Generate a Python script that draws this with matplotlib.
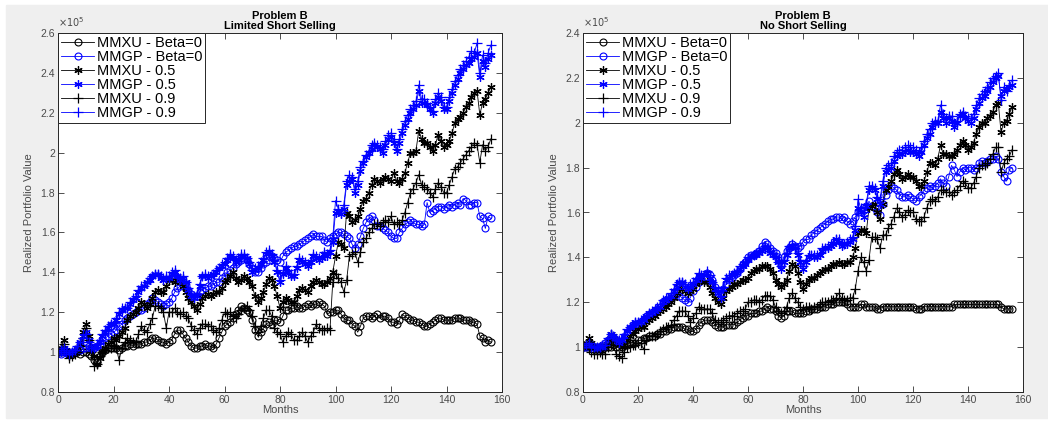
import matplotlib
matplotlib.use('Agg')
from matplotlib import pyplot as plt
from matplotlib.ticker import FormatStrFormatter, MultipleLocator
import numpy as np

plt.rcParams['font.family'] = ['Liberation Sans', 'DejaVu Sans']

# realized portfolio value, in units of 1e5, one value per month (0..156)
months = np.arange(157)

# ---- Limited short selling ----
lim_mmxu_b0 = [
    1.00, 1.00, 1.01, 1.00, 0.99, 0.99, 1.00, 1.00, 0.99, 1.00,
    1.00, 0.99, 0.98, 0.96, 0.95, 0.98, 1.00, 1.01, 1.02, 1.02,
    1.02, 1.02, 1.01, 1.02, 1.03, 1.03, 1.04, 1.03, 1.04, 1.04,
    1.04, 1.05, 1.05, 1.06, 1.07, 1.07, 1.06, 1.05, 1.05, 1.04,
    1.05, 1.06, 1.09, 1.11, 1.11, 1.09, 1.07, 1.05, 1.03, 1.02,
    1.02, 1.03, 1.03, 1.04, 1.03, 1.03, 1.02, 1.04, 1.07, 1.10,
    1.13, 1.14, 1.15, 1.17, 1.19, 1.21, 1.23, 1.22, 1.21, 1.20,
    1.16, 1.11, 1.08, 1.10, 1.12, 1.14, 1.15, 1.14, 1.16, 1.16,
    1.15, 1.18, 1.21, 1.21, 1.22, 1.22, 1.23, 1.22, 1.22, 1.23,
    1.24, 1.23, 1.24, 1.24, 1.25, 1.24, 1.23, 1.19, 1.20, 1.20,
    1.21, 1.21, 1.19, 1.17, 1.16, 1.16, 1.14, 1.13, 1.10, 1.13,
    1.17, 1.18, 1.18, 1.17, 1.18, 1.19, 1.17, 1.18, 1.18, 1.17,
    1.15, 1.15, 1.14, 1.16, 1.19, 1.18, 1.17, 1.16, 1.16, 1.15,
    1.15, 1.14, 1.13, 1.13, 1.14, 1.15, 1.16, 1.17, 1.17, 1.16,
    1.16, 1.16, 1.16, 1.17, 1.17, 1.17, 1.16, 1.16, 1.16, 1.15,
    1.15, 1.14, 1.08, 1.07, 1.05, 1.06, 1.05]
lim_mmgp_b0 = [
    1.00, 0.99, 1.00, 1.00, 0.99, 1.00, 1.00, 1.01, 1.01, 1.02,
    1.02, 1.03, 1.02, 1.02, 1.03, 1.04, 1.06, 1.07, 1.08, 1.09,
    1.10, 1.11, 1.13, 1.14, 1.16, 1.17, 1.18, 1.19, 1.20, 1.21,
    1.21, 1.22, 1.24, 1.25, 1.27, 1.26, 1.25, 1.24, 1.23, 1.24,
    1.25, 1.27, 1.30, 1.32, 1.33, 1.34, 1.33, 1.31, 1.29, 1.28,
    1.28, 1.30, 1.31, 1.32, 1.33, 1.33, 1.34, 1.35, 1.35, 1.37,
    1.38, 1.40, 1.41, 1.42, 1.44, 1.45, 1.46, 1.47, 1.46, 1.44,
    1.42, 1.40, 1.40, 1.42, 1.44, 1.45, 1.46, 1.48, 1.47, 1.46,
    1.45, 1.48, 1.50, 1.51, 1.52, 1.53, 1.53, 1.54, 1.55, 1.56,
    1.57, 1.58, 1.59, 1.58, 1.58, 1.58, 1.56, 1.55, 1.57, 1.58,
    1.59, 1.60, 1.60, 1.59, 1.58, 1.57, 1.54, 1.52, 1.54, 1.58,
    1.62, 1.65, 1.67, 1.68, 1.66, 1.63, 1.63, 1.62, 1.61, 1.60,
    1.58, 1.57, 1.57, 1.60, 1.62, 1.64, 1.65, 1.66, 1.65, 1.64,
    1.64, 1.63, 1.64, 1.75, 1.70, 1.71, 1.72, 1.73, 1.73, 1.72,
    1.73, 1.74, 1.73, 1.74, 1.75, 1.74, 1.77, 1.76, 1.74, 1.74,
    1.75, 1.75, 1.68, 1.67, 1.62, 1.68, 1.67]
lim_mmxu_05 = [
    1.00, 1.02, 1.06, 1.01, 0.98, 0.99, 1.00, 1.02, 1.04, 1.10,
    1.14, 1.08, 1.02, 0.98, 0.94, 0.97, 1.00, 1.02, 1.04, 1.05,
    1.07, 1.06, 1.08, 1.10, 1.12, 1.16, 1.18, 1.19, 1.20, 1.22,
    1.25, 1.24, 1.22, 1.24, 1.27, 1.30, 1.31, 1.30, 1.30, 1.33,
    1.36, 1.36, 1.35, 1.36, 1.37, 1.33, 1.30, 1.27, 1.25, 1.23,
    1.21, 1.24, 1.27, 1.28, 1.29, 1.28, 1.29, 1.30, 1.30, 1.32,
    1.35, 1.36, 1.38, 1.40, 1.37, 1.35, 1.36, 1.38, 1.37, 1.35,
    1.33, 1.28, 1.25, 1.27, 1.30, 1.34, 1.37, 1.36, 1.33, 1.28,
    1.22, 1.25, 1.27, 1.26, 1.25, 1.25, 1.28, 1.31, 1.32, 1.31,
    1.30, 1.33, 1.35, 1.36, 1.35, 1.34, 1.34, 1.35, 1.37, 1.40,
    1.48, 1.55, 1.54, 1.52, 1.70, 1.68, 1.65, 1.66, 1.68, 1.72,
    1.76, 1.77, 1.80, 1.84, 1.87, 1.86, 1.85, 1.87, 1.88, 1.87,
    1.86, 1.90, 1.86, 1.85, 1.87, 1.90, 1.95, 2.00, 2.00, 2.01,
    2.11, 2.07, 2.05, 2.05, 2.03, 2.01, 2.04, 2.09, 2.06, 2.03,
    2.04, 2.06, 2.10, 2.15, 2.17, 2.18, 2.20, 2.23, 2.25, 2.28,
    2.30, 2.31, 2.19, 2.25, 2.27, 2.30, 2.33]
lim_mmgp_05 = [
    1.00, 1.00, 1.02, 1.00, 0.99, 1.00, 1.00, 1.02, 1.05, 1.08,
    1.10, 1.06, 1.02, 1.02, 1.03, 1.05, 1.08, 1.10, 1.12, 1.14,
    1.14, 1.16, 1.19, 1.21, 1.22, 1.22, 1.24, 1.26, 1.27, 1.30,
    1.32, 1.33, 1.35, 1.36, 1.38, 1.39, 1.39, 1.37, 1.36, 1.37,
    1.37, 1.39, 1.40, 1.38, 1.36, 1.37, 1.35, 1.31, 1.28, 1.27,
    1.28, 1.33, 1.38, 1.38, 1.37, 1.38, 1.39, 1.40, 1.42, 1.43,
    1.44, 1.46, 1.48, 1.47, 1.45, 1.46, 1.48, 1.48, 1.47, 1.44,
    1.40, 1.41, 1.42, 1.44, 1.46, 1.49, 1.50, 1.48, 1.45, 1.40,
    1.35, 1.39, 1.42, 1.40, 1.38, 1.38, 1.42, 1.46, 1.45, 1.44,
    1.43, 1.45, 1.48, 1.47, 1.46, 1.47, 1.49, 1.48, 1.50, 1.55,
    1.70, 1.71, 1.69, 1.72, 1.84, 1.86, 1.87, 1.80, 1.84, 1.91,
    1.95, 1.98, 2.00, 2.02, 2.04, 2.03, 2.02, 2.00, 2.04, 2.07,
    2.08, 2.05, 2.01, 2.05, 2.10, 2.14, 2.17, 2.20, 2.22, 2.24,
    2.31, 2.25, 2.25, 2.24, 2.22, 2.20, 2.25, 2.28, 2.26, 2.22,
    2.22, 2.26, 2.30, 2.34, 2.37, 2.40, 2.42, 2.44, 2.45, 2.47,
    2.48, 2.50, 2.38, 2.46, 2.43, 2.47, 2.49]
lim_mmxu_09 = [
    1.00, 1.02, 1.04, 1.00, 0.97, 0.98, 0.99, 1.00, 1.03, 1.07,
    1.12, 1.06, 1.00, 0.93, 0.94, 0.98, 1.00, 1.01, 1.02, 1.02,
    1.03, 1.02, 0.96, 1.02, 1.05, 1.07, 1.06, 1.05, 1.05, 1.09,
    1.13, 1.11, 1.10, 1.14, 1.17, 1.23, 1.23, 1.22, 1.20, 1.12,
    1.20, 1.20, 1.22, 1.20, 1.19, 1.20, 1.18, 1.17, 1.13, 1.11,
    1.09, 1.12, 1.14, 1.14, 1.13, 1.13, 1.11, 1.10, 1.12, 1.16,
    1.20, 1.19, 1.20, 1.18, 1.17, 1.19, 1.21, 1.22, 1.23, 1.21,
    1.18, 1.13, 1.10, 1.13, 1.17, 1.21, 1.21, 1.18, 1.12, 1.10,
    1.09, 1.05, 1.08, 1.10, 1.09, 1.06, 1.06, 1.08, 1.10, 1.08,
    1.05, 1.08, 1.10, 1.14, 1.12, 1.11, 1.11, 1.12, 1.11, 1.35,
    1.39, 1.37, 1.35, 1.30, 1.36, 1.48, 1.49, 1.50, 1.45, 1.50,
    1.55, 1.57, 1.60, 1.62, 1.64, 1.64, 1.63, 1.65, 1.66, 1.65,
    1.68, 1.64, 1.65, 1.64, 1.66, 1.70, 1.75, 1.80, 1.82, 1.85,
    1.89, 1.84, 1.83, 1.82, 1.80, 1.78, 1.82, 1.85, 1.83, 1.80,
    1.80, 1.84, 1.88, 1.92, 1.93, 1.95, 1.97, 1.99, 2.01, 2.03,
    2.05, 2.04, 1.95, 2.04, 2.01, 2.03, 2.07]
lim_mmgp_09 = [
    1.00, 1.01, 1.02, 1.00, 0.99, 1.00, 1.01, 1.03, 1.05, 1.07,
    1.09, 1.05, 1.02, 1.02, 1.04, 1.06, 1.09, 1.11, 1.13, 1.14,
    1.15, 1.17, 1.20, 1.22, 1.22, 1.22, 1.25, 1.27, 1.28, 1.31,
    1.33, 1.33, 1.35, 1.37, 1.38, 1.39, 1.39, 1.38, 1.37, 1.38,
    1.38, 1.40, 1.41, 1.38, 1.37, 1.38, 1.35, 1.32, 1.29, 1.28,
    1.29, 1.34, 1.38, 1.39, 1.38, 1.38, 1.39, 1.41, 1.42, 1.44,
    1.45, 1.47, 1.49, 1.48, 1.46, 1.47, 1.49, 1.49, 1.47, 1.45,
    1.41, 1.42, 1.43, 1.45, 1.47, 1.50, 1.51, 1.49, 1.46, 1.41,
    1.36, 1.40, 1.43, 1.41, 1.39, 1.39, 1.43, 1.47, 1.46, 1.45,
    1.44, 1.46, 1.49, 1.48, 1.47, 1.48, 1.50, 1.49, 1.51, 1.57,
    1.76, 1.72, 1.70, 1.74, 1.86, 1.89, 1.88, 1.82, 1.86, 1.93,
    1.96, 1.99, 2.01, 2.04, 2.05, 2.04, 2.03, 2.02, 2.06, 2.09,
    2.10, 2.06, 2.02, 2.07, 2.12, 2.16, 2.19, 2.22, 2.24, 2.26,
    2.34, 2.27, 2.27, 2.25, 2.23, 2.21, 2.27, 2.30, 2.28, 2.23,
    2.23, 2.28, 2.32, 2.36, 2.39, 2.42, 2.44, 2.46, 2.48, 2.51,
    2.50, 2.55, 2.40, 2.49, 2.45, 2.50, 2.54]

# ---- No short selling ----
no_mmxu_b0 = [
    1.00, 1.00, 1.00, 1.01, 1.00, 1.00, 0.99, 1.00, 1.00, 1.00,
    1.00, 1.01, 1.00, 1.00, 1.00, 1.01, 1.01, 1.02, 1.02, 1.02,
    1.03, 1.03, 1.04, 1.04, 1.05, 1.05, 1.05, 1.06, 1.06, 1.07,
    1.07, 1.08, 1.08, 1.09, 1.09, 1.09, 1.09, 1.08, 1.08, 1.07,
    1.07, 1.08, 1.10, 1.11, 1.12, 1.12, 1.12, 1.11, 1.10, 1.09,
    1.09, 1.09, 1.10, 1.10, 1.10, 1.10, 1.11, 1.12, 1.13, 1.14,
    1.14, 1.15, 1.15, 1.15, 1.16, 1.16, 1.17, 1.18, 1.17, 1.17,
    1.16, 1.14, 1.13, 1.14, 1.16, 1.16, 1.16, 1.15, 1.15, 1.15,
    1.15, 1.16, 1.16, 1.17, 1.17, 1.17, 1.18, 1.18, 1.18, 1.19,
    1.19, 1.19, 1.20, 1.20, 1.20, 1.20, 1.19, 1.18, 1.18, 1.18,
    1.18, 1.19, 1.19, 1.18, 1.18, 1.18, 1.18, 1.17, 1.17, 1.18,
    1.18, 1.18, 1.18, 1.18, 1.18, 1.18, 1.18, 1.18, 1.18, 1.18,
    1.18, 1.17, 1.17, 1.17, 1.18, 1.18, 1.18, 1.18, 1.18, 1.18,
    1.18, 1.18, 1.18, 1.18, 1.18, 1.19, 1.19, 1.19, 1.19, 1.19,
    1.19, 1.19, 1.19, 1.19, 1.19, 1.19, 1.19, 1.19, 1.19, 1.19,
    1.19, 1.19, 1.18, 1.17, 1.17, 1.17, 1.17]
no_mmgp_b0 = [
    1.00, 1.00, 1.02, 1.01, 1.00, 1.00, 1.00, 1.01, 1.02, 1.03,
    1.04, 1.04, 1.03, 1.02, 1.02, 1.04, 1.06, 1.08, 1.09, 1.10,
    1.10, 1.11, 1.12, 1.13, 1.14, 1.15, 1.16, 1.17, 1.18, 1.20,
    1.21, 1.21, 1.22, 1.23, 1.24, 1.23, 1.22, 1.21, 1.20, 1.22,
    1.25, 1.27, 1.29, 1.30, 1.31, 1.33, 1.32, 1.30, 1.27, 1.25,
    1.24, 1.26, 1.28, 1.30, 1.31, 1.32, 1.33, 1.35, 1.37, 1.38,
    1.40, 1.41, 1.41, 1.42, 1.43, 1.45, 1.47, 1.46, 1.44, 1.43,
    1.42, 1.40, 1.37, 1.40, 1.43, 1.44, 1.46, 1.45, 1.44, 1.45,
    1.47, 1.48, 1.48, 1.50, 1.51, 1.52, 1.53, 1.54, 1.55, 1.56,
    1.57, 1.57, 1.58, 1.58, 1.57, 1.58, 1.56, 1.55, 1.56, 1.58,
    1.60, 1.61, 1.61, 1.63, 1.65, 1.63, 1.62, 1.60, 1.59, 1.64,
    1.68, 1.70, 1.72, 1.71, 1.70, 1.68, 1.67, 1.67, 1.68, 1.67,
    1.66, 1.65, 1.67, 1.68, 1.70, 1.71, 1.72, 1.71, 1.72, 1.73,
    1.75, 1.73, 1.72, 1.76, 1.81, 1.79, 1.76, 1.78, 1.80, 1.79,
    1.80, 1.80, 1.79, 1.80, 1.82, 1.83, 1.82, 1.83, 1.84, 1.84,
    1.85, 1.84, 1.78, 1.76, 1.74, 1.79, 1.80]
no_mmxu_05 = [
    1.00, 1.02, 1.04, 1.02, 1.00, 0.99, 0.99, 1.00, 1.00, 1.03,
    1.06, 1.05, 1.03, 1.01, 1.00, 1.01, 1.03, 1.05, 1.06, 1.07,
    1.08, 1.09, 1.09, 1.11, 1.12, 1.13, 1.14, 1.15, 1.16, 1.17,
    1.18, 1.19, 1.20, 1.22, 1.24, 1.27, 1.26, 1.25, 1.24, 1.25,
    1.26, 1.28, 1.30, 1.30, 1.29, 1.29, 1.27, 1.24, 1.22, 1.20,
    1.19, 1.22, 1.25, 1.26, 1.27, 1.28, 1.28, 1.29, 1.30, 1.30,
    1.31, 1.33, 1.34, 1.35, 1.35, 1.36, 1.36, 1.36, 1.35, 1.33,
    1.30, 1.28, 1.27, 1.28, 1.30, 1.34, 1.37, 1.36, 1.33, 1.29,
    1.26, 1.28, 1.30, 1.31, 1.31, 1.32, 1.33, 1.34, 1.35, 1.35,
    1.36, 1.37, 1.37, 1.38, 1.37, 1.37, 1.38, 1.38, 1.40, 1.44,
    1.51, 1.52, 1.52, 1.51, 1.62, 1.63, 1.64, 1.60, 1.57, 1.64,
    1.70, 1.72, 1.74, 1.77, 1.79, 1.77, 1.75, 1.76, 1.77, 1.76,
    1.76, 1.74, 1.72, 1.72, 1.74, 1.78, 1.82, 1.82, 1.81, 1.84,
    1.90, 1.86, 1.86, 1.85, 1.85, 1.86, 1.88, 1.90, 1.92, 1.90,
    1.88, 1.89, 1.91, 1.95, 1.98, 2.00, 2.00, 2.02, 2.03, 2.05,
    2.08, 2.09, 1.96, 2.00, 2.01, 2.04, 2.07]
no_mmgp_05 = [
    1.00, 1.01, 1.01, 1.00, 1.00, 0.99, 1.00, 1.00, 1.00, 1.03,
    1.06, 1.05, 1.03, 1.02, 1.03, 1.05, 1.07, 1.09, 1.10, 1.11,
    1.11, 1.11, 1.12, 1.14, 1.15, 1.15, 1.16, 1.17, 1.18, 1.20,
    1.21, 1.22, 1.23, 1.25, 1.27, 1.29, 1.29, 1.27, 1.26, 1.27,
    1.28, 1.30, 1.32, 1.31, 1.32, 1.33, 1.31, 1.29, 1.26, 1.24,
    1.22, 1.26, 1.30, 1.31, 1.32, 1.33, 1.33, 1.35, 1.36, 1.37,
    1.39, 1.40, 1.41, 1.41, 1.42, 1.43, 1.44, 1.44, 1.42, 1.41,
    1.40, 1.38, 1.35, 1.38, 1.41, 1.44, 1.45, 1.44, 1.41, 1.38,
    1.35, 1.38, 1.40, 1.41, 1.40, 1.40, 1.41, 1.43, 1.44, 1.44,
    1.45, 1.46, 1.48, 1.47, 1.45, 1.46, 1.46, 1.47, 1.48, 1.52,
    1.62, 1.60, 1.58, 1.63, 1.70, 1.71, 1.70, 1.66, 1.64, 1.72,
    1.78, 1.79, 1.80, 1.83, 1.85, 1.86, 1.86, 1.87, 1.88, 1.87,
    1.87, 1.86, 1.85, 1.87, 1.90, 1.93, 1.95, 1.98, 2.00, 2.00,
    2.05, 2.02, 2.00, 2.02, 2.01, 1.98, 2.00, 2.03, 2.04, 2.02,
    2.01, 2.00, 2.02, 2.06, 2.09, 2.11, 2.12, 2.14, 2.16, 2.18,
    2.20, 2.21, 2.12, 2.14, 2.15, 2.16, 2.17]
no_mmxu_09 = [
    1.00, 1.01, 0.99, 0.98, 0.97, 0.97, 0.98, 0.97, 0.97, 1.00,
    1.03, 1.01, 0.97, 0.96, 0.95, 0.98, 1.00, 1.00, 1.01, 1.01,
    1.02, 1.02, 0.99, 1.03, 1.05, 1.05, 1.05, 1.06, 1.07, 1.08,
    1.09, 1.09, 1.10, 1.12, 1.14, 1.16, 1.16, 1.16, 1.14, 1.11,
    1.13, 1.15, 1.18, 1.17, 1.17, 1.17, 1.17, 1.15, 1.12, 1.11,
    1.11, 1.12, 1.13, 1.14, 1.14, 1.14, 1.15, 1.16, 1.16, 1.17,
    1.20, 1.20, 1.21, 1.21, 1.20, 1.21, 1.23, 1.23, 1.23, 1.21,
    1.18, 1.16, 1.15, 1.16, 1.18, 1.22, 1.24, 1.22, 1.20, 1.18,
    1.17, 1.18, 1.18, 1.17, 1.18, 1.18, 1.19, 1.20, 1.20, 1.20,
    1.21, 1.21, 1.22, 1.24, 1.22, 1.21, 1.21, 1.22, 1.22, 1.26,
    1.34, 1.40, 1.38, 1.34, 1.39, 1.49, 1.49, 1.48, 1.44, 1.50,
    1.50, 1.53, 1.55, 1.58, 1.62, 1.60, 1.58, 1.59, 1.61, 1.60,
    1.60, 1.57, 1.56, 1.56, 1.58, 1.62, 1.65, 1.66, 1.65, 1.67,
    1.70, 1.70, 1.69, 1.69, 1.68, 1.69, 1.70, 1.72, 1.74, 1.73,
    1.71, 1.71, 1.73, 1.76, 1.80, 1.81, 1.81, 1.82, 1.84, 1.86,
    1.89, 1.89, 1.78, 1.82, 1.84, 1.85, 1.88]
no_mmgp_09 = [
    1.00, 1.01, 1.02, 1.00, 1.00, 1.00, 1.00, 1.01, 1.01, 1.04,
    1.06, 1.05, 1.03, 1.03, 1.04, 1.06, 1.08, 1.09, 1.10, 1.11,
    1.11, 1.12, 1.13, 1.14, 1.15, 1.16, 1.17, 1.18, 1.19, 1.21,
    1.22, 1.22, 1.24, 1.26, 1.28, 1.29, 1.29, 1.28, 1.27, 1.28,
    1.29, 1.31, 1.33, 1.32, 1.32, 1.34, 1.32, 1.29, 1.27, 1.25,
    1.23, 1.27, 1.31, 1.32, 1.32, 1.33, 1.34, 1.36, 1.37, 1.38,
    1.40, 1.40, 1.41, 1.42, 1.43, 1.44, 1.45, 1.44, 1.43, 1.42,
    1.40, 1.38, 1.36, 1.39, 1.42, 1.45, 1.46, 1.44, 1.42, 1.39,
    1.36, 1.39, 1.41, 1.41, 1.41, 1.41, 1.42, 1.44, 1.44, 1.45,
    1.46, 1.47, 1.48, 1.48, 1.46, 1.46, 1.47, 1.48, 1.49, 1.54,
    1.66, 1.62, 1.60, 1.64, 1.72, 1.72, 1.71, 1.67, 1.66, 1.74,
    1.80, 1.81, 1.82, 1.85, 1.87, 1.88, 1.88, 1.89, 1.90, 1.89,
    1.89, 1.88, 1.87, 1.89, 1.92, 1.95, 1.97, 2.00, 2.01, 2.01,
    2.08, 2.04, 2.02, 2.03, 2.03, 2.00, 2.01, 2.04, 2.05, 2.03,
    2.02, 2.02, 2.04, 2.08, 2.11, 2.13, 2.14, 2.16, 2.18, 2.20,
    2.21, 2.22, 2.10, 2.16, 2.14, 2.17, 2.19]

labels = ['MMXU - Beta=0', 'MMGP - Beta=0', 'MMXU - 0.5',
          'MMGP - 0.5', 'MMXU - 0.9', 'MMGP - 0.9']
colors = ['k', 'b', 'k', 'b', 'k', 'b']
markers = ['o', 'o', (6, 2, 0), (6, 2, 0), '+', '+']
msizes = [5, 5, 6, 6, 7, 7]

panels = [
    ('Problem B\nLimited Short Selling', 2.6,
     [lim_mmxu_b0, lim_mmgp_b0, lim_mmxu_05, lim_mmgp_05, lim_mmxu_09, lim_mmgp_09],
     [58, 444]),
    ('Problem B\nNo Short Selling', 2.4,
     [no_mmxu_b0, no_mmgp_b0, no_mmxu_05, no_mmgp_05, no_mmxu_09, no_mmgp_09],
     [583, 440]),
]

W, H = 1048, 423
fig = plt.figure(figsize=(W / 100, H / 100), dpi=100, facecolor='white')
# grey window background
fig.patches.append(plt.Rectangle((6 / W, 5 / H), 1 - 6 / W, 1 - 10 / H,
                                 transform=fig.transFigure, color='#efefef', zorder=-10))

grey = '#4a4a4a'
for title, ytop, series, (left, width) in panels:
    ax = fig.add_axes([left / W, 31 / H, width / W, 359 / H])
    for vals, lab, c, m, ms in zip(series, labels, colors, markers, msizes):
        if m == 'o':
            ax.plot(months, vals, '-', color=c, marker=m, ms=ms, mfc='none',
                    mew=0.8, lw=0.6, label=lab)
        else:
            ax.plot(months, vals, '-', color=c, marker=m, ms=ms,
                    mew=0.9, lw=0.6, label=lab)

    ax.set_xlim(0, 160)
    ax.set_ylim(0.8, ytop)
    ax.xaxis.set_major_locator(MultipleLocator(20))
    ax.yaxis.set_major_locator(MultipleLocator(0.2))
    ax.xaxis.set_major_formatter(FormatStrFormatter('%g'))
    ax.yaxis.set_major_formatter(FormatStrFormatter('%g'))
    ax.tick_params(direction='in', top=True, right=True, length=4, width=0.6,
                   labelsize=7.5, labelcolor=grey, color='#333333', pad=2)
    for sp in ax.spines.values():
        sp.set_color('#262626')
        sp.set_linewidth(0.7)

    ax.set_title(title, fontsize=8, fontweight='bold', linespacing=1.0, pad=3)
    ax.set_xlabel('Months', fontsize=8, color=grey, labelpad=0)
    ax.set_ylabel('Realized Portfolio Value', fontsize=8, color=grey, labelpad=5)
    ax.text(0.0, 1.01, r'$\times10^5$', transform=ax.transAxes, fontsize=7,
            color=grey, ha='left', va='bottom')

    leg = ax.legend(loc='upper left', borderaxespad=0, fontsize=10.5,
                    handlelength=2.3, handletextpad=0.15, labelspacing=0,
                    borderpad=0.2, numpoints=1, fancybox=False, framealpha=1,
                    edgecolor='#262626')
    leg.get_frame().set_linewidth(0.7)

plt.savefig('out.png', dpi=100, facecolor=fig.get_facecolor())
